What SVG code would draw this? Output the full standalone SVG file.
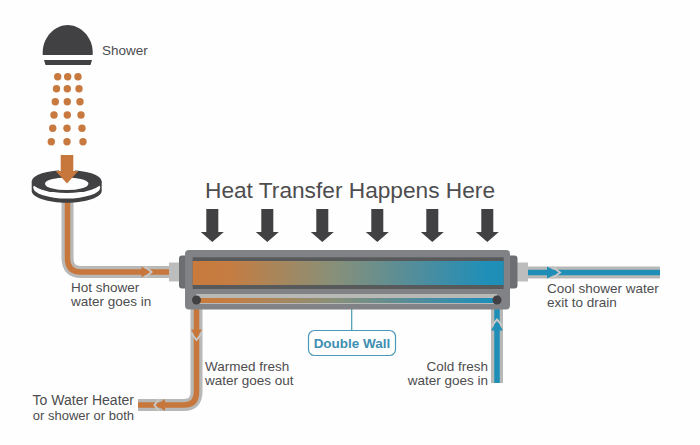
<svg xmlns="http://www.w3.org/2000/svg" width="700" height="445" viewBox="0 0 700 445">
<style>
text{font-family:"Liberation Sans",Arial,sans-serif;font-size:13.5px;fill:#4d4d4f}
.dark{fill:#414042}
.drop{fill:#c8793f}
.o{fill:#c8773c}
.b{fill:#1f8fb8}
.pg{fill:none;stroke:#b8b8b6;stroke-width:12}
.po{fill:none;stroke:#c8773c;stroke-width:5.5}
.pb{fill:none;stroke:#1f8fb8;stroke-width:5.5}
.notch{fill:none;stroke:#c9c8c6;stroke-width:2}
.conn{fill:#bcbdbc}
</style>
<defs>
<linearGradient id="hx" gradientUnits="userSpaceOnUse" x1="192" y1="0" x2="503" y2="0">
<stop offset="0" stop-color="#c97a3c"/><stop offset=".12" stop-color="#c57d42"/><stop offset=".45" stop-color="#899078"/><stop offset=".75" stop-color="#4b8da0"/><stop offset=".95" stop-color="#1f8fb8"/>
</linearGradient>
<path id="heat" class="dark" d="M-6 0H6V23H11.500L0 33L-11.500 23H-6Z"/>
</defs>
<rect width="700" height="445" fill="#fefefe"/>

<g id="connectors">
<path class="pg" d="M67.500 202V258Q67.500 272 81 272H170"/>
<path class="po" d="M67.500 202V258Q67.500 272 81 272H170"/>
<path class="notch" d="M145 266.500L151.500 272L145 277.500"/>
<path class="o" d="M141.500 266.500L149.500 272L141.500 277.500Z"/>
<path class="pg" d="M528 272.500H660"/>
<path class="pb" d="M528 272.500H660"/>
<path class="notch" d="M552 266.500L560 272.500L552 278.500"/>
<path class="b" d="M547 266.500L558 272.500L547 278.500Z"/>
<path class="pg" d="M196.500 300V392Q196.500 405 184 405H138"/>
<path class="po" d="M196.500 300V392Q196.500 405 184 405H138"/>
<path class="notch" d="M191 333L196.500 340L202 333"/>
<path class="o" d="M191 329.500L196.500 338L202 329.500Z"/>
<path class="notch" d="M159 399L154.500 405L159 411"/>
<path class="o" d="M165 399L156.500 405L165 411Z"/>
<path class="pg" d="M497 300V383"/>
<path class="pb" d="M497 300V383"/>
<path class="notch" d="M491.500 326L497 319.500L502.500 326"/>
<path class="b" d="M491 330.500L497 321.500L503 330.500Z"/>
<path d="M351.700 296V330" fill="none" stroke="#4a9ab5" stroke-width="1.200"/>
</g>

<g id="shower">
<path class="dark" d="M42.700 55V52C43 36 56 25 67.700 25S92.500 36 92.700 52V55Z"/>
<path class="dark" d="M44 60H92L90.500 65H45.500Z"/>
<text x="102" y="55">Shower</text>
</g>

<g id="water-drops">
<circle class="drop" cx="57.700" cy="76.700" r="3.700"/><circle class="drop" cx="67.700" cy="76.700" r="3.700"/><circle class="drop" cx="78" cy="76.700" r="3.700"/>
<circle class="drop" cx="56.500" cy="88.700" r="3.700"/><circle class="drop" cx="67.300" cy="88.700" r="3.700"/><circle class="drop" cx="79" cy="88.700" r="3.700"/>
<circle class="drop" cx="55.300" cy="101.700" r="3.700"/><circle class="drop" cx="67.300" cy="101.700" r="3.700"/><circle class="drop" cx="80" cy="101.700" r="3.700"/>
<circle class="drop" cx="54" cy="115" r="3.700"/><circle class="drop" cx="67.300" cy="115" r="3.700"/><circle class="drop" cx="81" cy="115" r="3.700"/>
<circle class="drop" cx="52.700" cy="128.300" r="3.700"/><circle class="drop" cx="67" cy="128.300" r="3.700"/><circle class="drop" cx="82" cy="128.300" r="3.700"/>
<circle class="drop" cx="51.300" cy="141.700" r="3.700"/><circle class="drop" cx="67" cy="141.700" r="3.700"/><circle class="drop" cx="83" cy="141.700" r="3.700"/>
</g>

<g id="drain">
<path class="dark" d="M31.700 181.500V191C31.700 197.500 48 202.800 66.700 202.800S101.700 197.500 101.700 191V181.500Z"/>
<ellipse fill="#fefefe" cx="66.700" cy="187.500" rx="33.500" ry="11"/>
<ellipse class="dark" cx="66.700" cy="181.500" rx="35" ry="11.500"/>
<ellipse fill="#fefefe" cx="66.700" cy="183.800" rx="21.700" ry="6.300"/>
<path fill="#fefefe" d="M59 169H75V175H59Z"/>
<path class="o" d="M60.700 155H73.300V171H78.300L67 183.500L55.700 171H60.700Z"/>
</g>

<g id="exchanger">
<rect class="conn" x="169" y="262.500" width="11" height="19"/>
<rect class="conn" x="517" y="262.500" width="11" height="19"/>
<rect x="179" y="255.500" width="12" height="33" rx="3" fill="#6d6e71"/>
<rect x="505" y="255.500" width="12.500" height="33" rx="3" fill="#6d6e71"/>
<rect x="185" y="250" width="325" height="59.500" rx="4" fill="#808285"/>
<rect x="192.700" y="257.300" width="311" height="31.700" fill="#58595b"/>
<rect x="192.700" y="261" width="311" height="24" fill="url(#hx)"/>
<rect x="196" y="294" width="301" height="10" fill="#b8b8b6"/>
<rect x="196" y="298" width="301" height="5" fill="url(#hx)"/>
<circle cx="196.500" cy="300" r="4.500" class="dark"/>
<circle cx="497" cy="300" r="4.500" class="dark"/>
</g>

<g id="heat-arrows">
<text x="205" y="198" style="font-size:22.700px">Heat Transfer Happens Here</text>
<use href="#heat" x="212.300" y="209"/><use href="#heat" x="267.300" y="209"/><use href="#heat" x="322.300" y="209"/><use href="#heat" x="377.300" y="209"/><use href="#heat" x="432.300" y="209"/><use href="#heat" x="487.300" y="209"/>
</g>

<g id="double-wall">
<rect x="308.500" y="330.500" width="87" height="25" rx="6" fill="#fefefe" stroke="#4a9ab5" stroke-width="1.200"/>
<text x="352" y="348" text-anchor="middle" style="font-size:13.500px;font-weight:bold;fill:#3f8fb2">Double Wall</text>
</g>

<g id="labels">
<text x="71" y="292">Hot shower<tspan x="71" dy="14">water goes in</tspan></text>
<text x="547" y="292.500">Cool shower water<tspan x="547" dy="14">exit to drain</tspan></text>
<text x="205" y="370.500">Warmed fresh<tspan x="205" dy="14">water goes out</tspan></text>
<text x="134" y="405" text-anchor="end" style="font-size:14px">To Water Heater<tspan x="134" dy="14.500" style="font-size:13px">or shower or both</tspan></text>
<text x="488" y="370.500" text-anchor="end">Cold fresh<tspan x="488" dy="14">water goes in</tspan></text>
</g>
</svg>
